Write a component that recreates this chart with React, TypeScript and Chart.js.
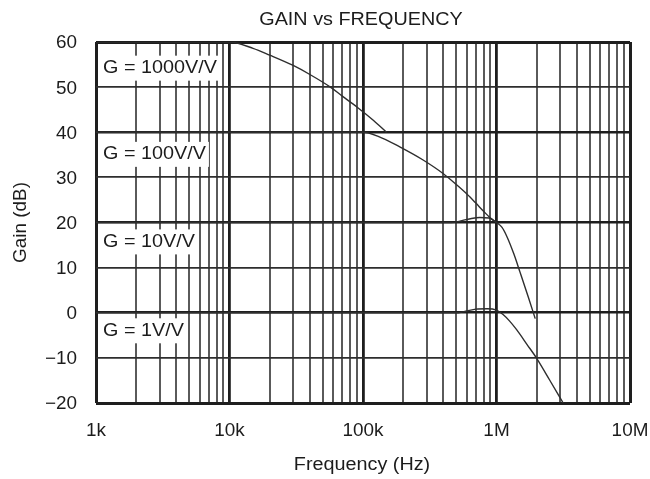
import React, { useEffect, useRef } from 'react';
import { Chart, registerables } from 'chart.js';

Chart.register(...registerables);

// Closed-loop gain curves (frequency in Hz, gain in dB)
const freqG1000 = [1e3, 1e4, 1.5e4, 2e4, 3e4, 4e4, 5.7e4, 7e4, 9e4, 1.2e5, 1.5e5];
const gainG1000 = [60, 60, 58.6, 57.1, 54.8, 52.8, 50, 48, 45.6, 42.6, 40];

const freqG100 = [1e3, 1e5, 1.3e5, 1.9e5, 2.8e5, 4e5, 5e5, 6e5, 7e5, 8e5, 9e5, 1e6];
const gainG100 = [40, 40, 39.1, 36.7, 33.9, 30.8, 28.4, 26.3, 24.3, 22.5, 21.0, 20.0];

const freqG10 = [1e3, 4.6e5, 5.5e5, 6.5e5, 7.5e5, 8.8e5, 1e6, 1.1e6, 1.2e6, 1.35e6, 1.5e6, 1.73e6, 1.95e6];
const gainG10 = [20, 20, 20.4, 20.9, 21.1, 21.0, 20.0, 18.9, 16.8, 13.0, 9.0, 3.5, -1.3];

const freqG1 = [1e3, 5.2e5, 6e5, 7e5, 8.5e5, 1e6, 1.12e6, 1.25e6, 1.41e6, 1.7e6, 2e6, 2.5e6, 3.16e6];
const gainG1 = [0, 0, 0.4, 0.8, 0.9, 0.6, -0.4, -1.8, -3.7, -7.1, -10.1, -14.9, -20];

// Axis ticks
const xTickValues = [1e3, 1e4, 1e5, 1e6, 1e7];
const xTickLabels = ['1k', '10k', '100k', '1M', '10M'];
const yTickValues = [-20, -10, 0, 10, 20, 30, 40, 50, 60];
const yTickLabels = ['\u221220', '\u221210', '0', '10', '20', '30', '40', '50', '60'];

// Curve captions and the gain (dB) each caption is centred on
const curveLabels = ['G = 1000V/V', 'G = 100V/V', 'G = 10V/V', 'G = 1V/V'];
const curveLabelGain = [54.2, 35.1, 15.7, -4.0];

const titleText = 'GAIN vs FREQUENCY';
const xTitleText = 'Frequency (Hz)';
const yTitleText = 'Gain (dB)';

// grid lines at 1..9 x 10^n across the decades
const xGridValues: number[] = [];
for (let e = 3; e < 7; e++) {
  for (let m = 1; m < 10; m++) xGridValues.push(m * Math.pow(10, e));
}
xGridValues.push(1e7);

const toPoints = (xs: number[], ys: number[]) => xs.map((x, i) => ({ x, y: ys[i] }));

const FONT = '"Liberation Sans", Arial, sans-serif';
const TEXT_COLOR = '#1c1c1c';

function drawText(
  ctx: CanvasRenderingContext2D,
  text: string,
  x: number,
  y: number,
  align: CanvasTextAlign,
  sx: number,
  size: number,
  rotate = false
) {
  ctx.save();
  ctx.translate(x, y);
  if (rotate) ctx.rotate(-Math.PI / 2);
  ctx.scale(sx, 1);
  ctx.font = `${size}px ${FONT}`;
  ctx.fillStyle = TEXT_COLOR;
  ctx.textAlign = align;
  ctx.textBaseline = 'middle';
  ctx.fillText(text, 0, 0);
  ctx.restore();
}

const isDecade = (v: number) => Math.abs(Math.log10(v) - Math.round(Math.log10(v))) < 1e-9;

const textPlugin = {
  id: 'gainText',
  afterDatasetsDraw(chart: any) {
    const { ctx, chartArea, scales } = chart;
    const ys = scales.y;

    // captions with white boxes over the grid
    curveLabels.forEach((label, i) => {
      const cy = ys.getPixelForValue(curveLabelGain[i]);
      const tx = chartArea.left + 7;
      ctx.save();
      ctx.font = `18px ${FONT}`;
      const w = ctx.measureText(label).width * 1.1;
      ctx.restore();
      ctx.save();
      ctx.fillStyle = '#ffffff';
      ctx.fillRect(chartArea.left + 4, cy - 12.5, w + 6, 25);
      ctx.restore();
      drawText(ctx, label, tx, cy, 'left', 1.1, 18);
    });
  },
  afterDraw(chart: any) {
    const { ctx, chartArea, scales } = chart;
    const xs = scales.x;
    const ys = scales.y;

    yTickValues.forEach((v, i) => {
      drawText(ctx, yTickLabels[i], chartArea.left - 19, ys.getPixelForValue(v) + 1.5, 'right', 1.05, 18);
    });
    xTickValues.forEach((v, i) => {
      drawText(ctx, xTickLabels[i], xs.getPixelForValue(v), chartArea.bottom + 28, 'center', 1.05, 18);
    });

    const cx = (chartArea.left + chartArea.right) / 2;
    drawText(ctx, titleText, cx - 2, 20, 'center', 1.1, 18);
    drawText(ctx, xTitleText, cx - 1, chartArea.bottom + 62, 'center', 1.1, 18);
    drawText(ctx, yTitleText, 21, (chartArea.top + chartArea.bottom) / 2, 'center', 1.05, 18, true);
  },
};

export default function App() {
  const canvasRef = useRef<HTMLCanvasElement | null>(null);

  useEffect(() => {
    const canvas = canvasRef.current;
    if (!canvas) return;

    const lineStyle = {
      borderColor: '#2e2e2e',
      borderWidth: 1.4,
      pointRadius: 0,
      fill: false,
      cubicInterpolationMode: 'monotone' as const,
    };

    const chart = new Chart(canvas, {
      type: 'line',
      data: {
        datasets: [
          { label: 'G = 1000V/V', data: toPoints(freqG1000, gainG1000), ...lineStyle },
          { label: 'G = 100V/V', data: toPoints(freqG100, gainG100), ...lineStyle },
          { label: 'G = 10V/V', data: toPoints(freqG10, gainG10), ...lineStyle },
          { label: 'G = 1V/V', data: toPoints(freqG1, gainG1), ...lineStyle },
        ],
      },
      options: {
        responsive: false,
        animation: false,
        layout: { padding: { left: 96, top: 42, right: 20, bottom: 76 } },
        plugins: {
          legend: { display: false },
          title: { display: false },
          tooltip: { enabled: false },
        },
        scales: {
          x: {
            type: 'logarithmic',
            min: 1e3,
            max: 1e7,
            afterBuildTicks: (scale: any) => {
              scale.ticks = xGridValues.map((value) => ({ value }));
            },
            ticks: { display: false },
            border: { display: false },
            grid: {
              drawTicks: false,
              color: (c: any) => (isDecade(c.tick.value) ? '#1e1e1e' : '#5a5a5a'),
              lineWidth: (c: any) => {
                const v = c.tick.value;
                if (v === 1e3 || v === 1e7) return 3;
                return isDecade(v) ? 2.8 : 2;
              },
            },
          },
          y: {
            type: 'linear',
            min: -20,
            max: 60,
            afterBuildTicks: (scale: any) => {
              scale.ticks = yTickValues.map((value) => ({ value }));
            },
            ticks: { display: false },
            border: { display: false },
            grid: {
              drawTicks: false,
              color: (c: any) => (c.tick.value % 20 === 0 ? '#1e1e1e' : '#2e2e2e'),
              lineWidth: (c: any) => {
                const v = c.tick.value;
                if (v === -20 || v === 60) return 3;
                return v % 20 === 0 ? 2.6 : 1.8;
              },
            },
          },
        },
      },
      plugins: [textPlugin],
    });

    return () => chart.destroy();
  }, []);

  return (
    <div style={{ position: 'absolute', left: 0, top: 0, width: 650, height: 479, background: '#ffffff' }}>
      <canvas ref={canvasRef} width={650} height={479} />
    </div>
  );
}
